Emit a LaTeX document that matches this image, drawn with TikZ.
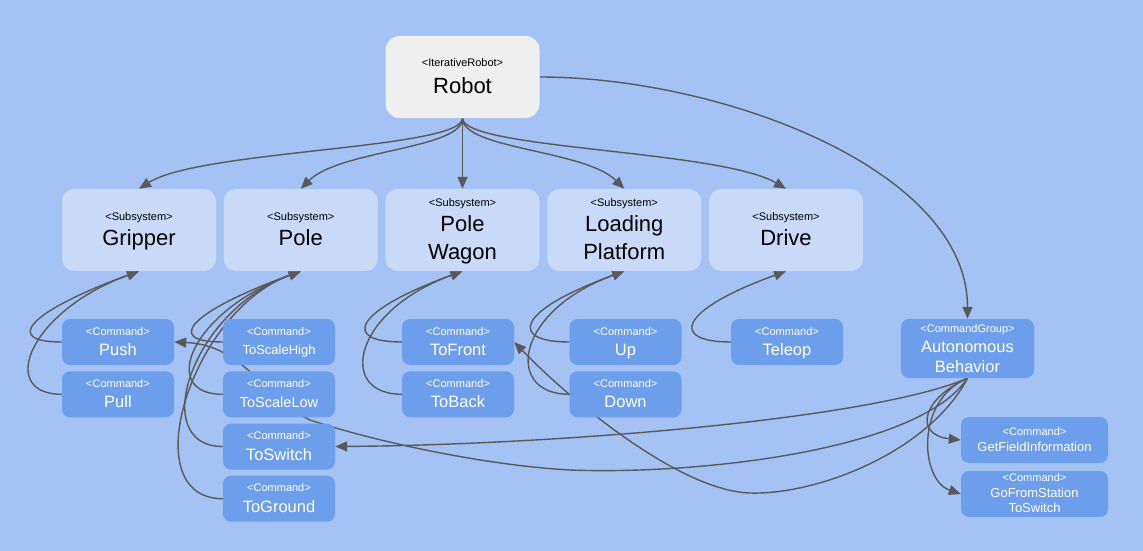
\documentclass[tikz,border=0pt]{standalone}
\usepackage{fontspec}
\setmainfont{Liberation Sans}
\usetikzlibrary{arrows.meta}
\definecolor{bgblue}{HTML}{A4C2F4}
\definecolor{robotgray}{HTML}{EFEFEF}
\definecolor{subblue}{HTML}{C9DAF8}
\definecolor{cmdblue}{HTML}{6D9EEB}
\definecolor{linegray}{HTML}{595959}
\pgfdeclarelayer{back}
\pgfdeclarelayer{edges}
\pgfsetlayers{back,edges,main}
\begin{document}
\begin{tikzpicture}[x=1pt,y=-1pt,
  robotbox/.style={rectangle, rounded corners=14pt, inner sep=0, fill=robotgray, minimum width=154pt, minimum height=82pt},
  subbox/.style={rectangle, rounded corners=12pt, inner sep=0, fill=subblue, minimum width=154pt, minimum height=82pt},
  cmdbox/.style={rectangle, rounded corners=8pt, inner sep=0, fill=cmdblue, minimum width=112pt, minimum height=46pt},
  st/.style={anchor=base, inner sep=0, font=\fontsize{11}{13}\selectfont},
  bn/.style={anchor=base, inner sep=0, font=\fontsize{22}{26}\selectfont},
  cst/.style={st, text=white},
  cnm/.style={anchor=base, inner sep=0, text=white, font=\fontsize{16.5}{19}\selectfont},
  snm/.style={anchor=base, inner sep=0, text=white, font=\fontsize{13}{15}\selectfont},
  conn/.style={draw=linegray, line width=1.4pt, -{Triangle[length=12pt,width=10pt]}},
]
\useasboundingbox (0,0) rectangle (1143,551);
\begin{pgfonlayer}{back}
\fill[bgblue] (0,0) rectangle (1143,551);
\end{pgfonlayer}

% Robot
\node[robotbox] (robot) at (462.5,77) {};
\node[st] (robot-st) at (462.5,66.7) {<IterativeRobot>};
\node[bn] (robot-nm) at (462.5,93.3) {Robot};

% Subsystems
\node[subbox] (gripper) at (139,230) {};
\node[st] (gripper-st) at (139,220.3) {<Subsystem>};
\node[bn] (gripper-nm) at (139,245.5) {Gripper};

\node[subbox] (pole) at (300.75,230) {};
\node[st] (pole-st) at (300.75,220.3) {<Subsystem>};
\node[bn] (pole-nm) at (300.75,245.5) {Pole};

\node[subbox] (wagon) at (462.5,230) {};
\node[st] (wagon-st) at (462.5,206.7) {<Subsystem>};
\node[bn] (wagon-nm1) at (462.5,231.7) {Pole};
\node[bn] (wagon-nm2) at (462.5,259) {Wagon};

\node[subbox] (loading) at (624.25,230) {};
\node[st] (loading-st) at (624.25,206.7) {<Subsystem>};
\node[bn] (loading-nm1) at (624.25,231.7) {Loading};
\node[bn] (loading-nm2) at (624.25,259) {Platform};

\node[subbox] (drive) at (786,230) {};
\node[st] (drive-st) at (786,220.3) {<Subsystem>};
\node[bn] (drive-nm) at (786,245.5) {Drive};

% Commands
\node[cmdbox] (push) at (118,342) {};
\node[cst] (push-st) at (118,335) {<Command>};
\node[cnm] (push-nm) at (118,355.5) {Push};

\node[cmdbox] (pull) at (118,394.3) {};
\node[cst] (pull-st) at (118,387.3) {<Command>};
\node[cnm] (pull-nm) at (118,407.8) {Pull};

\node[cmdbox] (tshigh) at (279,342) {};
\node[cst] (tshigh-st) at (279,335.5) {<Command>};
\node[snm] (tshigh-nm) at (279,354.3) {ToScaleHigh};

\node[cmdbox] (tslow) at (279,394.3) {};
\node[cst] (tslow-st) at (279,387.3) {<Command>};
\node[anchor=base, inner sep=0, text=white, font=\fontsize{14.5}{17}\selectfont] (tslow-nm) at (279,407.8) {ToScaleLow};

\node[cmdbox] (tswitch) at (279,446.5) {};
\node[cst] (tswitch-st) at (279,439.5) {<Command>};
\node[cnm] (tswitch-nm) at (279,460) {ToSwitch};

\node[cmdbox] (tground) at (279,498.7) {};
\node[cst] (tground-st) at (279,491.7) {<Command>};
\node[cnm] (tground-nm) at (279,512.2) {ToGround};

\node[cmdbox] (tfront) at (458,342) {};
\node[cst] (tfront-st) at (458,335) {<Command>};
\node[cnm] (tfront-nm) at (458,355.5) {ToFront};

\node[cmdbox] (tback) at (458,394.3) {};
\node[cst] (tback-st) at (458,387.3) {<Command>};
\node[cnm] (tback-nm) at (458,407.8) {ToBack};

\node[cmdbox] (up) at (625.5,342) {};
\node[cst] (up-st) at (625.5,335) {<Command>};
\node[cnm] (up-nm) at (625.5,355.5) {Up};

\node[cmdbox] (down) at (625.5,394.3) {};
\node[cst] (down-st) at (625.5,387.3) {<Command>};
\node[cnm] (down-nm) at (625.5,407.8) {Down};

\node[cmdbox] (teleop) at (787,342) {};
\node[cst] (teleop-st) at (787,335) {<Command>};
\node[cnm] (teleop-nm) at (787,355.5) {Teleop};

\node[cmdbox, minimum width=133pt, minimum height=59pt] (auto) at (967.5,348.5) {};
\node[cst] (auto-st) at (967.5,332.3) {<CommandGroup>};
\node[cnm] (auto-nm1) at (967.5,352.3) {Autonomous};
\node[cnm] (auto-nm2) at (967.5,372.3) {Behavior};

\node[cmdbox, minimum width=147pt] (getfield) at (1034.5,440) {};
\node[cst] (getfield-st) at (1034.5,435.7) {<Command>};
\node[snm] (getfield-nm) at (1034.5,451.7) {GetFieldInformation};

\node[cmdbox, minimum width=147pt] (gofrom) at (1034.5,494) {};
\node[cst] (gofrom-st) at (1034.5,481.7) {<Command>};
\node[snm] (gofrom-nm1) at (1034.5,497.7) {GoFromStation};
\node[snm] (gofrom-nm2) at (1034.5,512.7) {ToSwitch};

\begin{pgfonlayer}{edges}
% Robot to subsystems
\draw[conn] (robot.south) .. controls +(0,31) and +(61,-39) .. (gripper.north);
\draw[conn] (robot.south) .. controls +(0,31) and +(39,-39) .. (pole.north);
\draw[conn] (robot.south) -- (wagon.north);
\draw[conn] (robot.south) .. controls +(0,31) and +(-39,-39) .. (loading.north);
\draw[conn] (robot.south) .. controls +(0,31) and +(-66,-39) .. (drive.north);
\draw[conn] (robot.east) .. controls +(180,0) and +(0,-150) .. (auto.north);

% Commands to subsystems
\draw[conn] (push.west) .. controls +(-60,0) and +(-110,40) .. (gripper.south);
\draw[conn] (pull.west) .. controls +(-65,0) and +(-110,40) .. (gripper.south);
\draw[conn] (tshigh.west) .. controls +(-60,0) and +(-110,40) .. (pole.south);
\draw[conn] (tslow.west) .. controls +(-65,0) and +(-110,40) .. (pole.south);
\draw[conn] (tswitch.west) .. controls +(-75,0) and +(-110,40) .. (pole.south);
\draw[conn] (tground.west) .. controls +(-90,0) and +(-110,40) .. (pole.south);
\draw[conn] (tfront.west) .. controls +(-60,0) and +(-110,40) .. (wagon.south);
\draw[conn] (tback.west) .. controls +(-65,0) and +(-110,40) .. (wagon.south);
\draw[conn] (up.west) .. controls +(-60,0) and +(-110,40) .. (loading.south);
\draw[conn] (down.west) .. controls +(-65,0) and +(-110,40) .. (loading.south);
\draw[conn] (teleop.west) .. controls +(-60,0) and +(-110,40) .. (drive.south);

% Autonomous behaviour to commands
\draw[conn] (auto.south) .. controls (870,420) and (550,445) .. (tswitch.east);
\draw[conn] (auto.south) .. controls (920,450) and (700,475) .. (570,470)
   .. controls (480,465) and (370,440) .. (310,420)
   .. controls (265,400) and (245,345) .. (push.east);
\draw[conn] (auto.south) .. controls (930,450) and (820,495) .. (750,493)
   .. controls (680,491) and (570,400) .. (tfront.east);
\draw[conn] (auto.south) .. controls (920,400) and (915,435) .. (getfield.west);
\draw[conn] (auto.south) .. controls (915,400) and (920,480) .. (gofrom.west);
\end{pgfonlayer}
\end{tikzpicture}
\end{document}
